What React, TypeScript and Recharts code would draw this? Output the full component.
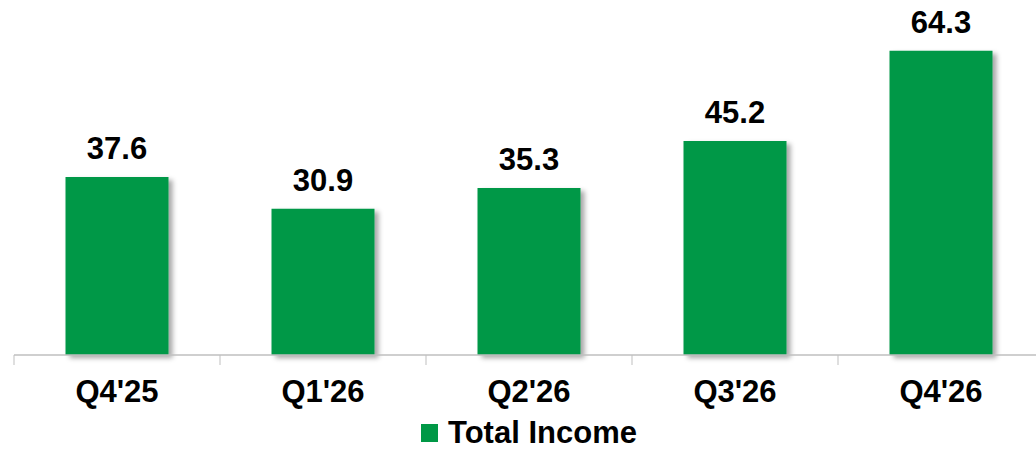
import React from 'react';
import { BarChart, Bar, XAxis, YAxis, LabelList } from 'recharts';

const categories = ["Q4'25", "Q1'26", "Q2'26", "Q3'26", "Q4'26"];
const totalIncome = [37.6, 30.9, 35.3, 45.2, 64.3];
const seriesName = 'Total Income';

const data = categories.map((c, i) => ({ name: c, value: totalIncome[i] }));

const GREEN = '#009846';
const FONT = '"Liberation Sans", Arial, sans-serif';
const HALF_BAND = 103;

const Tick = (props: any) => {
  const { x, y, payload } = props;
  return (
    <g>
      <line x1={x - HALF_BAND} x2={x - HALF_BAND} y1={y} y2={y + 10} stroke="#BFBFBF" strokeWidth={1} />
      <text x={x} y={y + 47} textAnchor="middle" fontFamily={FONT} fontWeight="bold" fontSize={31} fill="#000">
        {payload.value}
      </text>
    </g>
  );
};

const TopLabel = (props: any) => {
  const { x, y, width, value } = props;
  return (
    <text x={x + width / 2} y={y - 18} textAnchor="middle" fontFamily={FONT} fontWeight="bold" fontSize={31} fill="#000">
      {Number(value).toFixed(1)}
    </text>
  );
};

export default function App() {
  return (
    <div style={{ position: 'absolute', left: 0, top: 0, width: 1036, height: 451, overflow: 'hidden', background: '#fff' }}>
      <svg width={0} height={0} style={{ position: 'absolute' }}>
        <defs>
          <filter id="barShadow" x="-10%" y="-10%" width="130%" height="130%">
            <feDropShadow dx={4} dy={3} stdDeviation={2.5} floodColor="#000" floodOpacity={0.35} />
          </filter>
        </defs>
      </svg>
      <BarChart width={1058} height={451} data={data} margin={{ top: 0, right: 14, left: 14, bottom: 66 }} barCategoryGap="25%">
        <XAxis dataKey="name" height={30} axisLine={{ stroke: '#BFBFBF', strokeWidth: 1.5 }} tickLine={false} tickSize={0} tickMargin={0} tick={<Tick />} interval={0} />
        <YAxis hide domain={[0, 75]} />
        <Bar dataKey="value" name={seriesName} fill={GREEN} isAnimationActive={false} style={{ filter: 'url(#barShadow)' }}>
          <LabelList dataKey="value" content={<TopLabel />} />
        </Bar>
      </BarChart>
      <div style={{ position: 'absolute', left: 14, width: 1030, top: 416, display: 'flex', alignItems: 'center', justifyContent: 'center', fontFamily: FONT, fontWeight: 'bold', fontSize: 31, color: '#000', lineHeight: '34px' }}>
        <span style={{ display: 'inline-block', width: 17, height: 18, background: GREEN, marginRight: 10 }} />
        <span>{seriesName}</span>
      </div>
    </div>
  );
}
